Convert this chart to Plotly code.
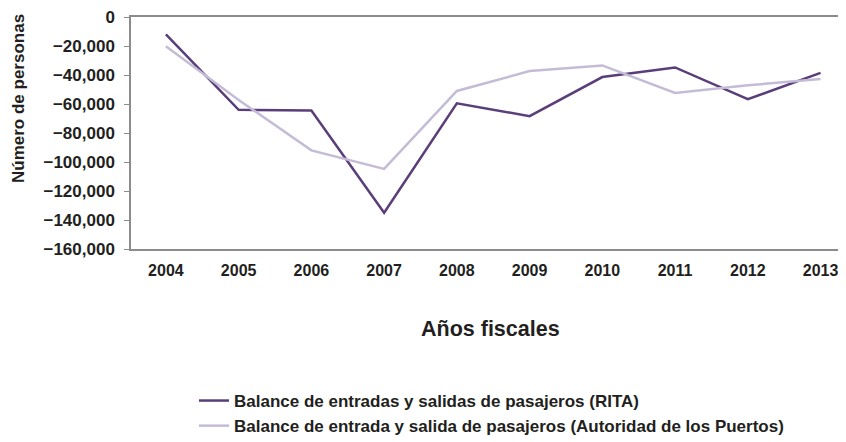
import plotly.graph_objects as go

years = ["2004", "2005", "2006", "2007", "2008", "2009", "2010", "2011", "2012", "2013"]
rita = [-12000, -64000, -64500, -135000, -59500, -68400, -41400, -34800, -56700, -38500]
autoridad = [-20100, -57200, -92000, -104800, -51000, -37300, -33400, -52400, -47100, -42800]

name_rita = "Balance de entradas y salidas de pasajeros (RITA)"
name_aut = "Balance de entrada y salida de pasajeros (Autoridad de los Puertos)"

FONT = "Liberation Sans, Arial, sans-serif"
TXT = "#231f20"
AX = "#8c8c8c"

# page body has an 8px default margin; figure sized to fill the rest of the window
W, H = 838, 434
L, T, B = 123, 9, 193
PW = W - L
PH = H - T - B
BOTTOM = T + PH

fig = go.Figure()
fig.add_trace(go.Scatter(x=list(range(len(years))), y=rita, mode="lines", name=name_rita,
                         line=dict(color="#5a3e7a", width=2.5)))
fig.add_trace(go.Scatter(x=list(range(len(years))), y=autoridad, mode="lines", name=name_aut,
                         line=dict(color="#c4bcd6", width=2.5)))

fig.update_layout(
    width=W, height=H,
    margin=dict(l=L, r=0, t=T, b=B, autoexpand=False),
    paper_bgcolor="white", plot_bgcolor="white",
    font=dict(family=FONT, color=TXT, size=16),
    showlegend=True,
    legend=dict(x=(186 - L) / PW, y=(BOTTOM - 375) / PH, xanchor="left", yanchor="top",
                font=dict(family=FONT, size=17, color=TXT, weight="bold"),
                tracegroupgap=0, itemwidth=30, bgcolor="rgba(0,0,0,0)"),
    xaxis=dict(range=[-0.48, 9.35], tickmode="array", tickvals=list(range(len(years))),
               ticktext=years, showgrid=False, zeroline=False,
               showline=True, linecolor=AX, linewidth=1.5, mirror=True, ticks="",
               ticklabelstandoff=6, automargin=False, ticklabeloverflow="allow",
               tickfont=dict(family=FONT, size=16, color=TXT, weight="bold")),
    yaxis=dict(range=[-160000, 0], dtick=20000, tickformat=",", showgrid=False,
               zeroline=False, showline=True, linecolor=AX, linewidth=1.5,
               ticks="outside", ticklen=5, tickcolor=AX, tickwidth=1,
               ticklabelstandoff=6, automargin=False, ticklabeloverflow="allow",
               tickfont=dict(family=FONT, size=17, color=TXT, weight="bold")),
    annotations=[
        dict(text="Número de personas", xref="paper", yref="paper", textangle=-90,
             x=(10 - L) / PW, y=(BOTTOM - 91) / PH, xanchor="center", yanchor="middle",
             showarrow=False,
             font=dict(family=FONT, size=17, color=TXT, weight="bold")),
        dict(text="Años fiscales", xref="paper", yref="paper",
             x=(482 - L) / PW, y=(BOTTOM - 321) / PH, xanchor="center", yanchor="middle",
             showarrow=False,
             font=dict(family=FONT, size=21.5, color=TXT, weight="bold")),
    ],
)

fig.write_html("out.html")
